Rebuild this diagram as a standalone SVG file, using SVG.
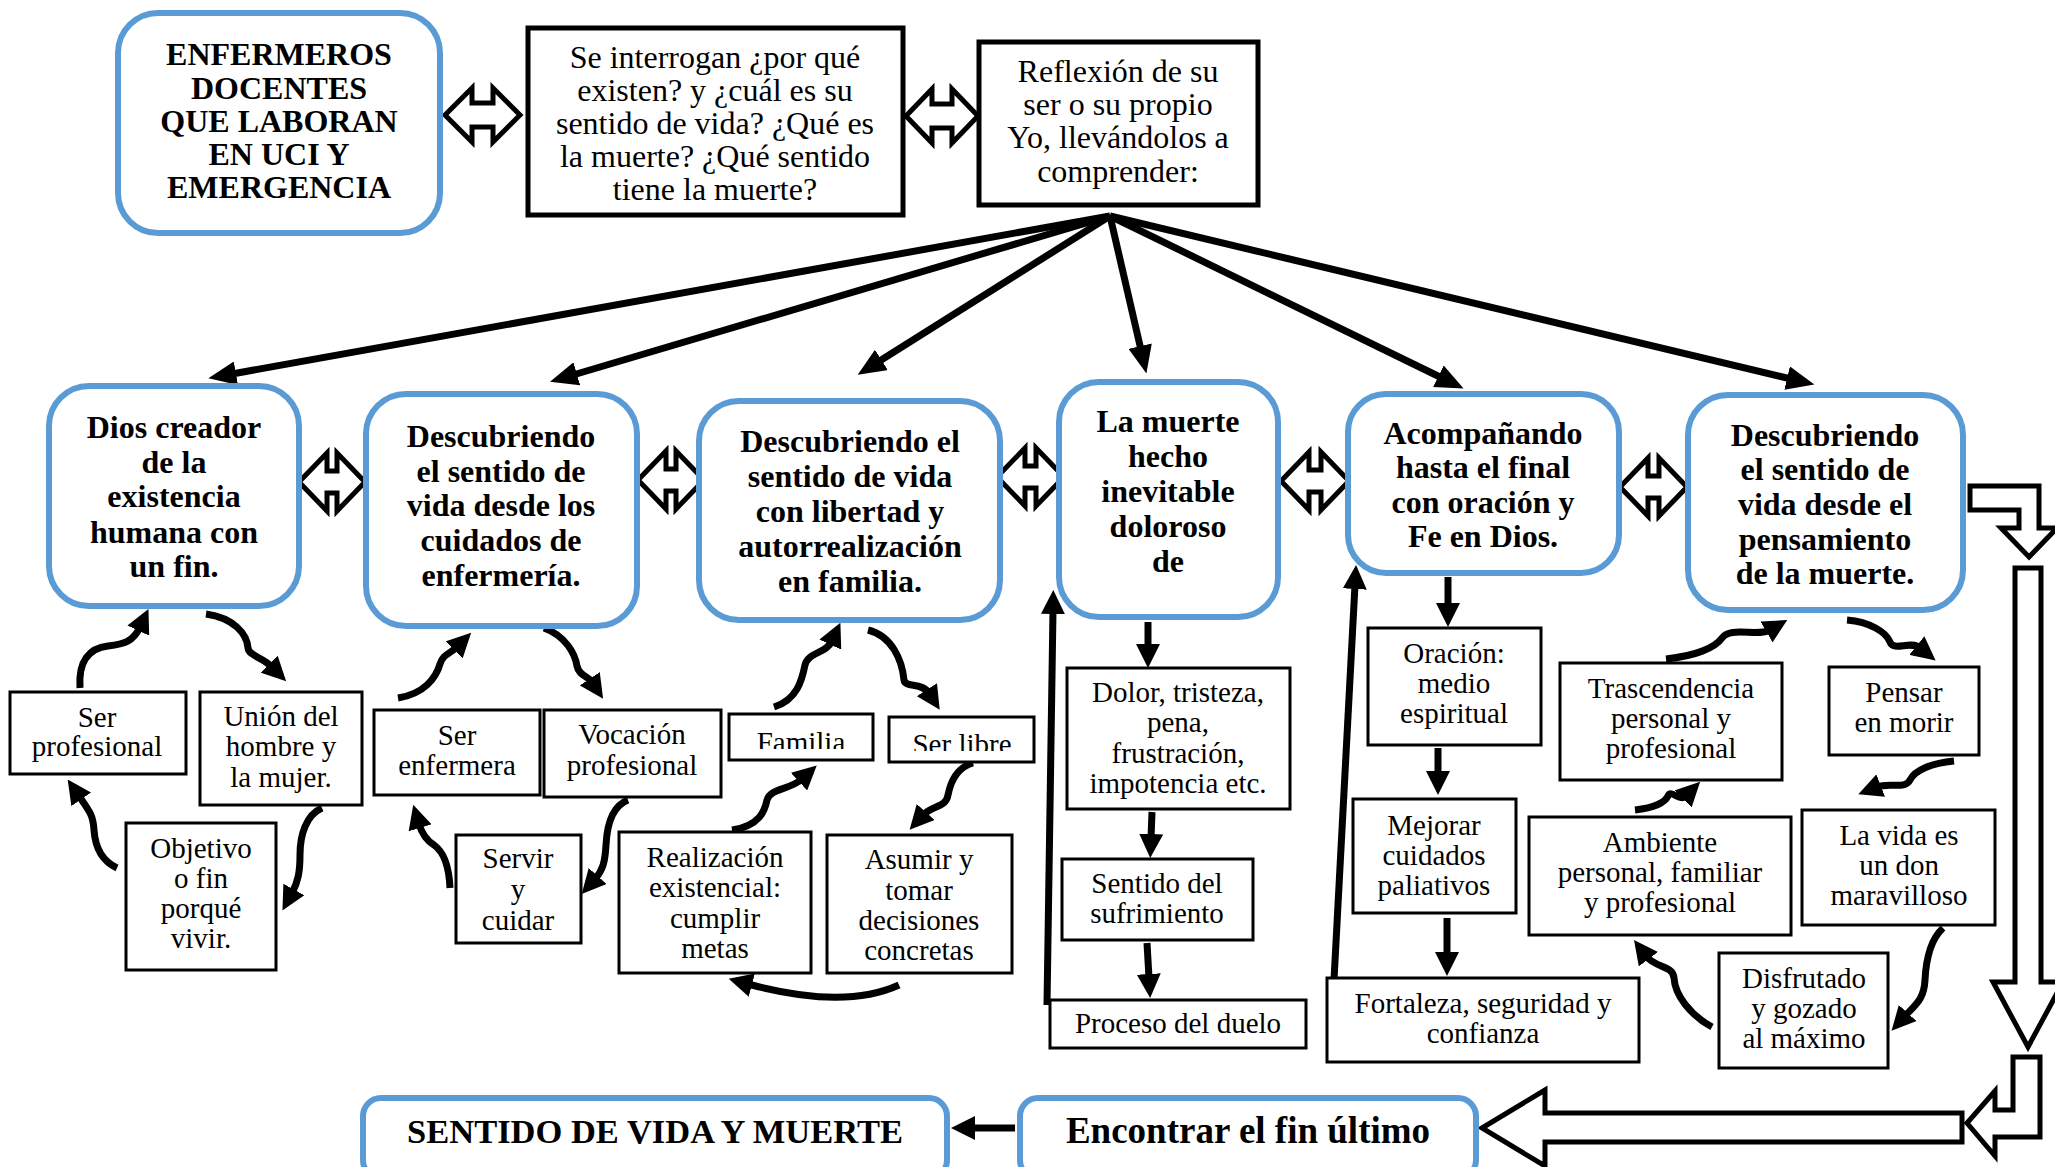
<svg xmlns="http://www.w3.org/2000/svg" width="2055" height="1167" viewBox="0 0 2055 1167">
<defs>
<style>
.blue{fill:#fff;stroke:#5B9BD5;stroke-width:6}
.box{fill:#fff;stroke:#000;stroke-width:3}
.tbox{fill:#fff;stroke:#000;stroke-width:5}
.t{font-family:"Liberation Serif","Times New Roman",serif;font-size:29px;text-anchor:middle;fill:#000}
.tt{font-size:32px}
.tb{font-weight:bold;font-size:32px}
.dbl{fill:#fff;stroke:#000;stroke-width:5;stroke-linejoin:miter}
.ln{fill:none;stroke:#000;stroke-width:7}
.fan{marker-end:url(#ah)}
.cv{marker-end:url(#ah2)}
</style>
<marker id="ah" viewBox="0 0 28 24" markerWidth="28" markerHeight="24" refX="4" refY="12" orient="auto" markerUnits="userSpaceOnUse"><path d="M0,0 L28,12 L0,24 z" fill="#000"/></marker>
<marker id="ah2" viewBox="0 0 24 24" markerWidth="24" markerHeight="24" refX="4" refY="12" orient="auto" markerUnits="userSpaceOnUse"><path d="M0,0 L24,12 L0,24 z" fill="#000"/></marker>
<clipPath id="cf"><rect x="729" y="700" width="144" height="49"/></clipPath>
<clipPath id="cs"><rect x="889" y="700" width="145" height="51"/></clipPath>
</defs>
<rect width="2055" height="1167" fill="#fff"/>

<g id="connectors">
<!-- fan out -->
<path class="ln fan" d="M1110,216 L232,374"/>
<path class="ln fan" d="M1110,216 L573,375"/>
<path class="ln fan" d="M1110,216 L878,362"/>
<path class="ln fan" d="M1110,216 L1141,350"/>
<path class="ln fan" d="M1110,216 L1442,378"/>
<path class="ln fan" d="M1110,216 L1791,379"/>
<!-- hollow double arrows -->
<polygon class="dbl" points="445,115 472,88 472,103 493,103 493,88 520,115 493,142 493,127 472,127 472,142"/>
<polygon class="dbl" points="906,116 932,89 932,104 952,104 952,89 978,116 952,143 952,128 932,128 932,143"/>
<polygon class="dbl" points="299,482 327,453 327,471 337,471 337,453 365,482 337,511 337,493 327,493 327,511"/>
<polygon class="dbl" points="638,480 666,451 666,469 676,469 676,451 704,480 676,509 676,491 666,491 666,509"/>
<polygon class="dbl" points="997,477 1025,448 1025,466 1036,466 1036,448 1064,477 1036,506 1036,488 1025,488 1025,506"/>
<polygon class="dbl" points="1281,481 1309,452 1309,470 1321,470 1321,452 1349,481 1321,510 1321,492 1309,492 1309,510"/>
<polygon class="dbl" points="1620,487 1648,458 1648,476 1659,476 1659,458 1687,487 1659,516 1659,498 1648,498 1648,516"/>
<!-- cluster 1 -->
<path class="ln cv" d="M80,688 C78,660 90,648 108,646 C124,644 133,642 140,627"/>
<path class="ln cv" d="M206,614 C234,618 247,634 248,648 C249,656 262,657 272,667"/>
<path class="ln cv" d="M322,808 C306,815 300,835 300,855 C300,872 298,882 292,893"/>
<path class="ln cv" d="M117,868 C100,860 95,845 94,830 C93,815 90,812 79,796"/>
<!-- cluster 2 -->
<path class="ln cv" d="M398,698 C424,694 436,678 440,664 C443,654 450,654 457,647"/>
<path class="ln cv" d="M544,628 C566,636 575,654 577,666 C579,676 588,676 592,682"/>
<path class="ln cv" d="M628,800 C612,806 607,825 606,845 C605,862 603,870 595,879"/>
<path class="ln cv" d="M450,888 C449,865 444,852 434,845 C426,840 422,834 419,824"/>
<!-- cluster 3 -->
<path class="ln cv" d="M774,707 C797,700 802,680 805,665 C808,652 826,654 832,641"/>
<path class="ln cv" d="M868,630 C892,636 902,660 904,680 C905,688 922,682 929,693"/>
<path class="ln cv" d="M973,763 C955,768 950,785 948,795 C946,808 932,805 923,815"/>
<path class="ln cv" d="M899,985 C855,1005 800,998 748,984"/>
<path class="ln cv" d="M732,830 C760,826 765,810 767,800 C770,788 790,790 802,779"/>
<!-- la muerte column -->
<path class="ln cv" d="M1148,622 L1148,648"/>
<path class="ln cv" d="M1152,812 L1151,838"/>
<path class="ln cv" d="M1147,943 L1149,978"/>
<path class="ln cv" d="M1047,1005 L1053,610"/>
<!-- acompanando column -->
<path class="ln cv" d="M1448,577 L1448,607"/>
<path class="ln cv" d="M1438,748 L1438,775"/>
<path class="ln cv" d="M1447,918 L1447,956"/>
<path class="ln cv" d="M1334,980 L1355,585"/>
<!-- cluster F -->
<path class="ln cv" d="M1666,659 C1695,656 1715,648 1722,638 C1730,626 1758,637 1770,630"/>
<path class="ln cv" d="M1847,620 C1870,622 1886,632 1890,642 C1894,652 1910,640 1920,648"/>
<path class="ln cv" d="M1954,761 C1932,763 1915,770 1910,780 C1905,790 1890,782 1877,787"/>
<path class="ln cv" d="M1943,928 C1930,940 1926,960 1925,980 C1924,1000 1915,1005 1905,1016"/>
<path class="ln cv" d="M1712,1027 C1690,1015 1675,995 1674,978 C1673,965 1655,968 1646,956"/>
<path class="ln cv" d="M1635,810 C1655,808 1665,802 1668,796 C1671,789 1680,802 1686,796"/>
<!-- right side hollow arrows -->
<polygon class="dbl" points="1970,486 2039,486 2039,528 2057,528 2029,557 2001,528 2019,528 2019,510 1970,510"/>
<polygon class="dbl" points="2015,568 2041,568 2041,982 2063,982 2028,1047 1993,982 2015,982"/>
<polygon class="dbl" points="2013,1057 2040,1057 2040,1137 1995,1137 1995,1156 1967,1123 1995,1091 1995,1110 2013,1110"/>
<polygon class="dbl" points="1482,1128 1545,1090 1545,1113 1962,1113 1962,1142 1545,1142 1545,1166"/>
<path class="ln cv" d="M1015,1128 L971,1128"/>
</g>

<g id="n-enfermeros"><rect class="blue" x="118" y="13" width="322" height="220" rx="40"/>
<text class="t tb"><tspan x="279" y="65">ENFERMEROS</tspan><tspan x="279" y="99">DOCENTES</tspan><tspan x="279" y="132">QUE LABORAN</tspan><tspan x="279" y="165">EN UCI Y</tspan><tspan x="279" y="198">EMERGENCIA</tspan></text></g>

<g id="n-interrogan"><rect class="tbox" x="528" y="28" width="375" height="187"/>
<text class="t tt"><tspan x="715" y="68">Se interrogan ¿por qué</tspan><tspan x="715" y="101">existen? y ¿cuál es su</tspan><tspan x="715" y="134">sentido de vida? ¿Qué es</tspan><tspan x="715" y="167">la muerte? ¿Qué sentido</tspan><tspan x="715" y="200">tiene la muerte?</tspan></text></g>

<g id="n-reflexion"><rect class="tbox" x="979" y="42" width="279" height="163"/>
<text class="t tt"><tspan x="1118" y="82">Reflexión de su</tspan><tspan x="1118" y="115">ser o su propio</tspan><tspan x="1118" y="148">Yo, llevándolos a</tspan><tspan x="1118" y="182">comprender:</tspan></text></g>

<g id="n-dios"><rect class="blue" x="49" y="386" width="250" height="220" rx="40"/>
<text class="t tb"><tspan x="174" y="438">Dios creador</tspan><tspan x="174" y="473">de la</tspan><tspan x="174" y="507">existencia</tspan><tspan x="174" y="543">humana con</tspan><tspan x="174" y="577">un fin.</tspan></text></g>

<g id="n-cuidados"><rect class="blue" x="366" y="394" width="271" height="232" rx="40"/>
<text class="t tb"><tspan x="501" y="447">Descubriendo</tspan><tspan x="501" y="482">el sentido de</tspan><tspan x="501" y="516">vida desde los</tspan><tspan x="501" y="551">cuidados de</tspan><tspan x="501" y="586">enfermería.</tspan></text></g>

<g id="n-libertad"><rect class="blue" x="699" y="401" width="301" height="219" rx="40"/>
<text class="t tb"><tspan x="850" y="452">Descubriendo el</tspan><tspan x="850" y="487">sentido de vida</tspan><tspan x="850" y="522">con libertad y</tspan><tspan x="850" y="557">autorrealización</tspan><tspan x="850" y="592">en familia.</tspan></text></g>

<g id="n-muerte"><rect class="blue" x="1059" y="382" width="219" height="235" rx="40"/>
<text class="t tb"><tspan x="1168" y="432">La muerte</tspan><tspan x="1168" y="467">hecho</tspan><tspan x="1168" y="502">inevitable</tspan><tspan x="1168" y="537">doloroso</tspan><tspan x="1168" y="572">de</tspan></text></g>

<g id="n-acompanando"><rect class="blue" x="1348" y="394" width="271" height="179" rx="38"/>
<text class="t tb"><tspan x="1483" y="444">Acompañando</tspan><tspan x="1483" y="478">hasta el final</tspan><tspan x="1483" y="513">con oración y</tspan><tspan x="1483" y="547">Fe en Dios.</tspan></text></g>

<g id="n-pensamiento"><rect class="blue" x="1688" y="395" width="275" height="215" rx="40"/>
<text class="t tb"><tspan x="1825" y="446">Descubriendo</tspan><tspan x="1825" y="480">el sentido de</tspan><tspan x="1825" y="515">vida desde el</tspan><tspan x="1825" y="550">pensamiento</tspan><tspan x="1825" y="584">de la muerte.</tspan></text></g>

<g id="n-serprof"><rect class="box" x="10" y="692" width="176" height="82"/>
<text class="t"><tspan x="97" y="727">Ser</tspan><tspan x="97" y="756">profesional</tspan></text></g>
<g id="n-union"><rect class="box" x="200" y="692" width="162" height="113"/>
<text class="t"><tspan x="281" y="726">Unión del</tspan><tspan x="281" y="756">hombre y</tspan><tspan x="281" y="787">la mujer.</tspan></text></g>
<g id="n-objetivo"><rect class="box" x="126" y="823" width="150" height="147"/>
<text class="t"><tspan x="201" y="858">Objetivo</tspan><tspan x="201" y="888">o fin</tspan><tspan x="201" y="918">porqué</tspan><tspan x="201" y="948">vivir.</tspan></text></g>

<g id="n-serenf"><rect class="box" x="374" y="710" width="166" height="85"/>
<text class="t"><tspan x="457" y="745">Ser</tspan><tspan x="457" y="775">enfermera</tspan></text></g>
<g id="n-vocacion"><rect class="box" x="544" y="710" width="177" height="87"/>
<text class="t"><tspan x="632" y="744">Vocación</tspan><tspan x="632" y="775">profesional</tspan></text></g>
<g id="n-servir"><rect class="box" x="456" y="835" width="125" height="108"/>
<text class="t"><tspan x="518" y="868">Servir</tspan><tspan x="518" y="899">y</tspan><tspan x="518" y="930">cuidar</tspan></text></g>

<g id="n-familia"><rect class="box" x="729" y="714" width="144" height="46"/>
<text class="t" x="801" y="752" clip-path="url(#cf)">Familia</text></g>
<g id="n-serlibre"><rect class="box" x="889" y="717" width="145" height="45"/>
<text class="t" x="962" y="754" clip-path="url(#cs)">Ser libre</text></g>
<g id="n-realizacion"><rect class="box" x="619" y="832" width="192" height="141"/>
<text class="t"><tspan x="715" y="867">Realización</tspan><tspan x="715" y="897">existencial:</tspan><tspan x="715" y="928">cumplir</tspan><tspan x="715" y="958">metas</tspan></text></g>
<g id="n-asumir"><rect class="box" x="827" y="835" width="185" height="138"/>
<text class="t"><tspan x="919" y="869">Asumir y</tspan><tspan x="919" y="900">tomar</tspan><tspan x="919" y="930">decisiones</tspan><tspan x="919" y="960">concretas</tspan></text></g>

<g id="n-dolor"><rect class="box" x="1067" y="668" width="223" height="141"/>
<text class="t"><tspan x="1178" y="702">Dolor, tristeza,</tspan><tspan x="1178" y="732">pena,</tspan><tspan x="1178" y="763">frustración,</tspan><tspan x="1178" y="793">impotencia etc.</tspan></text></g>
<g id="n-sufrimiento"><rect class="box" x="1062" y="859" width="191" height="81"/>
<text class="t"><tspan x="1157" y="893">Sentido del</tspan><tspan x="1157" y="923">sufrimiento</tspan></text></g>
<g id="n-duelo"><rect class="box" x="1050" y="1000" width="256" height="48"/>
<text class="t" x="1178" y="1033">Proceso del duelo</text></g>

<g id="n-oracion"><rect class="box" x="1368" y="628" width="173" height="117"/>
<text class="t"><tspan x="1454" y="663">Oración:</tspan><tspan x="1454" y="693">medio</tspan><tspan x="1454" y="723">espiritual</tspan></text></g>
<g id="n-mejorar"><rect class="box" x="1353" y="799" width="163" height="114"/>
<text class="t"><tspan x="1434" y="835">Mejorar</tspan><tspan x="1434" y="865">cuidados</tspan><tspan x="1434" y="895">paliativos</tspan></text></g>
<g id="n-fortaleza"><rect class="box" x="1327" y="978" width="312" height="84"/>
<text class="t"><tspan x="1483" y="1013">Fortaleza, seguridad y</tspan><tspan x="1483" y="1043">confianza</tspan></text></g>

<g id="n-trascendencia"><rect class="box" x="1560" y="663" width="222" height="117"/>
<text class="t"><tspan x="1671" y="698">Trascendencia</tspan><tspan x="1671" y="728">personal y</tspan><tspan x="1671" y="758">profesional</tspan></text></g>
<g id="n-pensar"><rect class="box" x="1829" y="667" width="150" height="88"/>
<text class="t"><tspan x="1904" y="702">Pensar</tspan><tspan x="1904" y="732">en morir</tspan></text></g>
<g id="n-ambiente"><rect class="box" x="1529" y="817" width="262" height="118"/>
<text class="t"><tspan x="1660" y="852">Ambiente</tspan><tspan x="1660" y="882">personal, familiar</tspan><tspan x="1660" y="912">y profesional</tspan></text></g>
<g id="n-lavida"><rect class="box" x="1802" y="810" width="193" height="115"/>
<text class="t"><tspan x="1899" y="845">La vida es</tspan><tspan x="1899" y="875">un don</tspan><tspan x="1899" y="905">maravilloso</tspan></text></g>
<g id="n-disfrutado"><rect class="box" x="1719" y="953" width="169" height="115"/>
<text class="t"><tspan x="1804" y="988">Disfrutado</tspan><tspan x="1804" y="1018">y gozado</tspan><tspan x="1804" y="1048">al máximo</tspan></text></g>

<g id="n-sentido"><rect class="blue" x="363" y="1098" width="584" height="80" rx="18"/>
<text class="t" x="655" y="1143" style="font-weight:bold;font-size:34.5px">SENTIDO DE VIDA Y MUERTE</text></g>
<g id="n-encontrar"><rect class="blue" x="1020" y="1098" width="456" height="80" rx="18"/>
<text class="t" x="1248" y="1143" style="font-weight:bold;font-size:37px">Encontrar el fin último</text></g>
</svg>
